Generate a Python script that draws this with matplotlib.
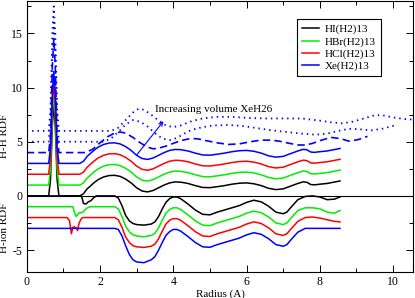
import numpy as np
import matplotlib.pyplot as plt

plt.rcParams['font.family'] = ['Liberation Serif', 'DejaVu Serif']
plt.rcParams['axes.unicode_minus'] = False

# ---- H-H RDF (upper block), solid curves share the same shape ----
r_hh = [0.0, 0.60, 0.65, 0.70, 0.74, 0.78, 0.83, 0.88, 1.45, 1.55, 1.65, 1.75, 1.85,
        1.95, 2.1, 2.25, 2.4, 2.55, 2.7, 2.85, 3.0, 3.15, 3.3, 3.45, 3.6, 3.75, 3.9,
        4.05, 4.2, 4.4, 4.6, 4.8, 5.0, 5.2, 5.4, 5.6, 5.8, 6.0, 6.2, 6.4, 6.6, 6.8,
        7.0, 7.2, 7.4, 7.55, 7.65, 7.75, 7.85, 8.0, 8.2, 8.4, 8.55]
hh_shell = [0.0, 0.0, 1.5, 6.5, 8.5, 6.5, 1.5, 0.0, 0.0, 0.2, 0.65, 0.95, 1.25,
            1.5, 1.75, 1.88, 1.9, 1.8, 1.55, 1.2, 0.75, 0.45, 0.37, 0.5, 0.75, 1.0, 1.2,
            1.29, 1.27, 1.15, 0.95, 0.78, 0.76, 0.85, 0.95, 1.08, 1.17, 1.2, 1.12, 0.95, 0.7, 0.58,
            0.65, 0.9, 1.15, 1.3, 1.25, 1.05, 1.02, 1.08, 1.15, 1.28, 1.38]
hh_names = ["HI(H2)13", "HBr(H2)13", "HCl(H2)13", "Xe(H2)13"]
hh_colors = ["black", "#00ee00", "red", "blue"]
hh_offsets = [0, 1, 2, 3]

# XeH26 at increasing volume (dashed, dotted, dotted)
r_dash = [0.0, 0.60, 0.65, 0.70, 0.74, 0.78, 0.83, 0.88, 1.6, 1.8, 2.0, 2.2, 2.4, 2.55,
          2.7, 2.9, 3.1, 3.3, 3.45, 3.6, 3.8, 4.0, 4.2, 4.4, 4.55, 4.7, 4.9, 5.2, 5.5,
          5.8, 6.1, 6.4, 6.65, 6.9, 7.1, 7.4, 7.6, 7.8, 8.0, 8.3, 8.55, 8.8, 9.05, 9.3]
dash_vals = [0.0, 0.0, 1.5, 8.0, 10.5, 8.0, 1.5, 0.0, 0.0, 0.3, 0.9, 1.45, 1.8, 1.9,
             1.8, 1.4, 0.9, 0.5, 0.35, 0.4, 0.6, 0.85, 1.1, 1.25, 1.3, 1.25, 1.1, 0.9, 0.75,
             0.8, 1.0, 1.15, 1.15, 1.05, 0.9, 0.7, 0.7, 0.85, 1.1, 1.4, 1.3, 1.05, 1.2, 1.5]
dash_offset = 4

r_dot1 = [0.0, 0.60, 0.65, 0.70, 0.74, 0.78, 0.83, 0.88, 2.1, 2.3, 2.5, 2.7, 2.9, 3.1,
          3.3, 3.5, 3.7, 3.9, 4.1, 4.3, 4.5, 4.8, 5.1, 5.5, 5.9, 6.3, 6.7, 7.1, 7.5,
          7.9, 8.2, 8.5, 8.8, 9.1, 9.4, 9.7, 10.1]
dot1_vals = [0.0, 0.0, 2.0, 8.0, 11.0, 8.0, 2.0, 0.0, 0.0, 0.3, 0.9, 1.6, 2.0, 1.85,
             1.4, 0.8, 0.3, 0.15, 0.35, 0.75, 1.1, 1.35, 1.5, 1.55, 1.45, 1.25, 1.05, 0.9, 0.75,
             0.65, 0.75, 1.0, 1.2, 1.15, 1.05, 1.2, 1.55]
dot1_offset = 5

r_dot2 = [0.0, 0.60, 0.65, 0.70, 0.74, 0.78, 0.83, 0.88, 2.3, 2.5, 2.7, 2.9, 3.05, 3.2,
          3.4, 3.6, 3.8, 4.0, 4.2, 4.5, 4.8, 5.2, 5.6, 6.0, 6.5, 7.0, 7.5, 8.0, 8.3,
          8.6, 8.9, 9.2, 9.5, 9.7, 10.0, 10.3, 10.55]
dot2_vals = [0.0, 0.0, 2.0, 9.0, 11.5, 9.0, 2.0, 0.0, 0.0, 0.3, 1.0, 1.7, 2.05, 1.95,
             1.5, 0.95, 0.5, 0.35, 0.5, 0.9, 1.15, 1.3, 1.3, 1.2, 1.15, 1.15, 1.15, 0.95, 0.8,
             0.7, 0.85, 1.15, 1.45, 1.45, 1.25, 1.1, 1.05]
dot2_offset = 6

# ---- H-ion RDF (lower block) ----
r_hion = [0.0, 1.10, 1.17, 1.22, 1.26, 1.30, 1.35, 1.39, 1.43, 1.50, 1.55, 1.62, 1.68,
          1.75, 1.82, 1.90, 2.4, 2.5, 2.6, 2.7, 2.8, 2.9, 3.0, 3.2, 3.4, 3.5, 3.6, 3.7,
          3.8, 3.9, 4.0, 4.1, 4.2, 4.4, 4.6, 4.8, 5.0, 5.2, 5.4, 5.6, 5.8, 6.0, 6.2,
          6.4, 6.6, 6.8, 7.0, 7.1, 7.2, 7.4, 7.6, 7.8, 8.0, 8.2, 8.4, 8.55]
hion_hi = [0, 0, 0, 0, 0, 0, 0, 0, 0, -0.05, -0.7, -0.75, -0.55,
           -0.45, -0.2, 0, 0, -0.2, -0.9, -1.8, -2.3, -2.55, -2.65, -2.7, -2.6, -2.4, -1.9, -1.2,
           -0.6, -0.25, -0.1, -0.1, -0.25, -0.75, -1.3, -1.7, -1.75, -1.5, -1.3, -1.1, -0.9, -0.6, -0.4,
           -0.55, -0.95, -1.5, -1.65, -1.5, -1.1, -0.35, -0.05, 0, -0.1, -0.35, -0.3, -0.1]
hion_hbr = [0, 0, 0, 0, 0, -0.5, -0.9, -0.75, -0.55, -0.55, -0.45, -0.2, -0.05,
            0, 0, 0, 0, -0.2, -0.9, -1.8, -2.3, -2.6, -2.7, -2.78, -2.65, -2.45, -1.95, -1.25,
            -0.6, -0.25, -0.1, -0.1, -0.25, -0.75, -1.3, -1.7, -1.75, -1.5, -1.3, -1.1, -0.9, -0.6, -0.4,
            -0.55, -0.95, -1.5, -1.65, -1.5, -1.1, -0.35, -0.1, -0.1, -0.2, -0.5, -0.6, -0.35]
hion_hcl = [0, 0, -0.3, -1.5, -0.9, -0.85, -0.95, -1.2, -0.5, -0.05, 0, 0, 0,
            0, 0, 0, 0, -0.2, -0.9, -1.8, -2.3, -2.6, -2.7, -2.76, -2.65, -2.45, -1.95, -1.25,
            -0.6, -0.25, -0.1, -0.1, -0.25, -0.75, -1.3, -1.7, -1.75, -1.5, -1.3, -1.1, -0.9, -0.6, -0.4,
            -0.55, -0.95, -1.5, -1.65, -1.5, -1.1, -0.35, 0, 0.05, -0.05, -0.2, -0.35, -0.4]
hion_xe = [0, 0, 0, 0, 0, 0, 0, 0, 0, 0, 0, 0, 0,
           0, 0, 0, 0, -0.1, -0.7, -1.6, -2.4, -2.9, -3.1, -3.17, -2.9, -2.6, -2.0, -1.3,
           -0.65, -0.3, -0.1, -0.1, -0.25, -0.75, -1.3, -1.7, -1.75, -1.5, -1.3, -1.1, -0.9, -0.6, -0.4,
           -0.55, -0.95, -1.5, -1.65, -1.5, -1.1, -0.35, 0, 0, 0, 0, 0, 0]
hion_offsets = [0, -1, -2, -3]

fig = plt.figure(figsize=(4.15, 2.98), dpi=100)
ax = fig.add_axes([0.0643, 0.0883, 0.9316, 0.9084])

lw = 1.1
ax.axhline(0, color="black", lw=0.8, zorder=1)

# lower block first
for vals, off, c in zip([hion_hi, hion_hbr, hion_hcl, hion_xe], hion_offsets, hh_colors):
    ax.plot(r_hion, np.array(vals) + off, color=c, lw=lw)

# upper block
for name, off, c in zip(hh_names, hh_offsets, hh_colors):
    ax.plot(r_hh, np.array(hh_shell) + off, color=c, lw=lw, label=name)

ax.plot(r_dash, np.array(dash_vals) + dash_offset, color="blue", lw=1.2, ls=(0, (4.5, 2.5)))
ax.plot(r_dot1, np.array(dot1_vals) + dot1_offset, color="blue", lw=1.3, ls=(0, (0.8, 2.2)))
ax.plot(r_dot2, np.array(dot2_vals) + dot2_offset, color="blue", lw=1.3, ls=(0, (0.8, 2.2)))

ax.annotate("", xy=(3.78, 7.1), xytext=(2.96, 3.6),
            arrowprops=dict(arrowstyle="->", color="blue", lw=0.8, mutation_scale=7))
ax.text(3.5, 7.95, "Increasing volume XeH26", fontsize=8, ha="left", va="center")

ax.set_xlim(0, 10.55)
ax.set_ylim(-7, 18)
ax.set_xticks([0, 2, 4, 6, 8, 10])
ax.set_xticks([1, 3, 5, 7, 9], minor=True)
ax.set_yticks([-5, 0, 5, 10, 15])
ax.set_yticks([-2.5, 2.5, 7.5, 12.5, 17.5], minor=True)
ax.tick_params(which="both", direction="in", top=True, right=True, labelsize=8.5, width=0.7)
ax.tick_params(which="major", length=4.8, pad=3)
ax.tick_params(which="minor", length=2.6)
for s in ax.spines.values():
    s.set_linewidth(0.8)

ax.set_xlabel("Radius (A)", fontsize=8, labelpad=1)
fig.text(0.012, 0.544, "H-H RDF", rotation=90, ha="center", va="center", fontsize=8)
fig.text(0.012, 0.235, "H-ion RDF", rotation=90, ha="center", va="center", fontsize=8)

leg = ax.legend(loc="upper left", bbox_to_anchor=(0.700, 0.932), borderaxespad=0,
                fontsize=8, handlelength=1.5, handletextpad=0.55, labelspacing=0.2,
                borderpad=0.45, fancybox=False, framealpha=1, edgecolor="black")
leg.get_frame().set_linewidth(0.8)

plt.savefig("out.png", dpi=100)
